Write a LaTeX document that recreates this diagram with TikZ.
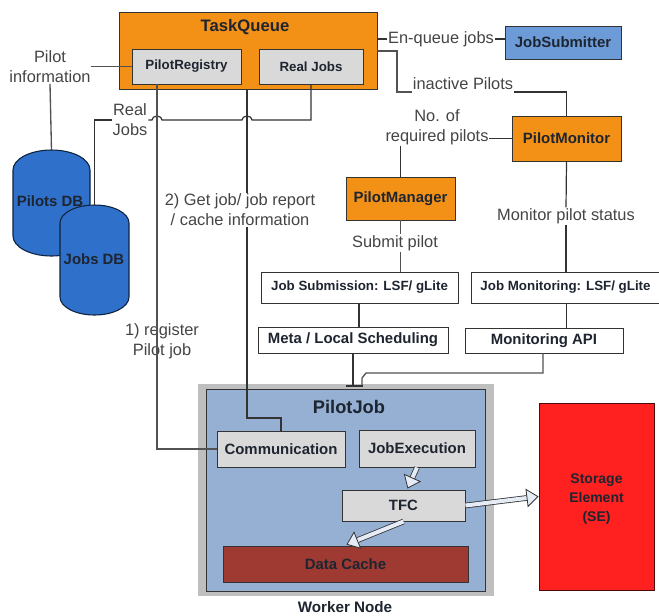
\documentclass[tikz,border=0pt]{standalone}
\usepackage{fontspec}
\setmainfont{Liberation Sans}
\usetikzlibrary{arrows.meta,calc}
\definecolor{orangeq}{HTML}{F39016}
\definecolor{greybox}{HTML}{D9D9D9}
\definecolor{bluesub}{HTML}{6C9BD8}
\definecolor{bluejob}{HTML}{95B0D3}
\definecolor{greyout}{HTML}{BFBFBF}
\definecolor{cachered}{HTML}{9E3A32}
\definecolor{sered}{HTML}{FF2020}
\definecolor{dbblue}{HTML}{2F70CB}
\definecolor{lineC}{HTML}{333333}
\definecolor{txtC}{HTML}{1E2530}
\definecolor{lblC}{HTML}{444444}
\definecolor{arrowfill}{HTML}{E6ECF6}
\newcommand{\pxbox}[7][]{%
  \pgfmathsetmacro{\cxv}{(#3+#5)/2}\pgfmathsetmacro{\cyv}{(#4+#6)/2}%
  \pgfmathsetmacro{\wv}{(#5-#3)*0.75}\pgfmathsetmacro{\hv}{(#6-#4)*0.75}%
  \node[boxbase,#1,minimum width=\wv pt,minimum height=\hv pt] (#2) at (\cxv,\cyv) {#7};}
\newcommand{\dbshape}[6]{%
  \draw[dbbody] (#2-#4,#3+#5) arc[start angle=180,end angle=0,x radius=#4,y radius=-#5]
     -- (#2+#4,#6-#5) arc[start angle=0,end angle=-180,x radius=#4,y radius=-#5] -- cycle;
}
\tikzset{
  boxbase/.style={draw=lineC,line width=0.7pt,inner sep=0pt,font=\bfseries\fontsize{10}{12}\selectfont,text=txtC,align=center},
  bigfont/.style={font=\bfseries\fontsize{11.2}{13}\selectfont},
  orangebox/.style={fill=orangeq},
  greyfill/.style={fill=greybox},
  whitebox/.style={fill=white},
  lbl/.style={font=\fontsize{12.3}{15}\selectfont,text=lblC,align=center,inner sep=0.5pt},
  dbbody/.style={draw=black!70!dbblue,line width=0.8pt,fill=dbblue},
  link/.style={draw=lineC,line width=0.9pt},
  softlink/.style={draw=black!68,line width=1pt},
  wide/.style={draw=lineC,line width=0.6pt,double=arrowfill,double distance=3pt,
    -{Triangle[open,fill=arrowfill,length=9pt,width=14pt]}}
}
\begin{document}
\begin{tikzpicture}[x=0.75pt,y=-0.75pt]
\useasboundingbox (0,0) rectangle (659,615);
% containers
\pxbox[orangebox]{tqbase}{119}{12}{377}{89}{}
\node[font=\bfseries\fontsize{12.5}{15}\selectfont,text=txtC] (tqtitle) at (245,27) {TaskQueue};
\pxbox[greyfill]{registry}{132}{49}{241}{84}{PilotRegistry}
\pxbox[greyfill]{realjobs}{259}{49}{363}{84}{Real Jobs}
\pxbox[fill=bluesub,bigfont]{submitter}{505}{26}{621}{59}{JobSubmitter}
\pxbox[orangebox,bigfont]{monitor}{512}{116}{621}{161}{PilotMonitor}
\pxbox[orangebox,bigfont]{manager}{346}{177}{455}{220}{PilotManager}
\pxbox[whitebox]{jobsub}{261}{272}{458}{303}{Job Submission: LSF/ gLite}
\pxbox[whitebox]{jobmon}{471}{272}{660}{303}{Job Monitoring: LSF/ gLite}
\pxbox[whitebox,bigfont]{meta}{258}{327}{448}{353}{Meta / Local Scheduling}
\pxbox[whitebox,bigfont]{monapi}{465}{328}{623}{353}{Monitoring API}
\pxbox[fill=greyout,draw=none]{outer}{198}{384}{494}{596}{}
\pxbox[fill=bluejob]{pilotjob}{206}{389}{485}{591}{}
\node[font=\bfseries\fontsize{13.7}{16}\selectfont,text=txtC] (pjtitle) at (349,407) {PilotJob};
\pxbox[greyfill,bigfont]{comm}{217}{431}{345}{467}{Communication}
\pxbox[greyfill,bigfont]{jobexec}{359}{430}{475}{467}{JobExecution}
\pxbox[greyfill,bigfont]{tfc}{342}{490}{465}{521}{TFC}
\pxbox[fill=cachered,bigfont]{cache}{223}{546}{468}{582}{Data Cache}
\pxbox[fill=sered,draw=black!70!sered,font=\bfseries\fontsize{10.5}{14}\selectfont]{se}{539}{403}{654}{590}{\rule{0pt}{11pt}Storage\\Element\\(SE)}
\node[font=\bfseries\fontsize{11.4}{13}\selectfont,text=txtC,anchor=base,inner sep=0pt] (worker) at (345,612) {Worker Node};
% databases
\dbshape{pdbs}{51.5}{150}{38.5}{20}{256}
\node[bigfont,text=txtC,inner sep=0pt] (pilotsdb) at (50,201) {Pilots DB};
\dbshape{jdbs}{94.5}{205}{34.5}{18}{315}
\node[bigfont,text=txtC,inner sep=0pt] (jobsdb) at (94,259) {Jobs DB};
\coordinate (pdbtop) at (51.5,150);
\coordinate (jdbtop) at (94.5,205);
% labels
\node[lbl] (lpilot) at (50,67) {Pilot\\information};
\node[lbl] (lreal) at (130,120) {Real\\Jobs};
\node[lbl] (lget) at (240,210) {2) Get job/ job report\\/ cache information};
\node[lbl] (lreg) at (162,341) {1) register\\Pilot job};
\node[lbl] (lenq) at (441,39) {En-queue jobs};
\node[lbl] (linact) at (463,84) {inactive Pilots};
\node[lbl] (lreq) at (437,127) {No. of\\required pilots};
\node[lbl] (lsubmit) at (395,243) {Submit pilot};
\node[lbl] (lmonst) at (566,216) {Monitor pilot status};
% connectors
\draw[softlink] (lpilot.east |- registry.west) -- (registry.west);
\draw[softlink] (lpilot.south) -- (pdbtop);
\draw[link] (realjobs.south) -- (realjobs.south |- lreal.east)
  -- (252,120) arc[start angle=0,end angle=180,x radius=5,y radius=-4] -- (162,120)
  arc[start angle=0,end angle=180,x radius=5,y radius=-4] -- (lreal.east);
\draw[link] (lreal.west) -- (lreal.west -| jdbtop) -- (jdbtop);
\draw[softlink] (registry.south -| 157,0) -- (157,449) -- (comm.west);
\draw[link] (247,89) -- (lget.north -| 247,0);
\draw[link] (lget.south -| 247,0) -- (247,418) -- (comm.north |- 0,418) -- (comm.north);
\draw[link] (tqbase.east |- lenq.west) -- (lenq.west);
\draw[link] (lenq.east) -- (submitter.west |- lenq.east);
\draw[softlink] (377,51) -- (397,51) -- (397,92) -- (linact.west |- 0,92);
\draw[link] (linact.east |- 0,92) -- (monitor.north |- 0,92) -- (monitor.north);
\draw[link] (monitor.west) -- (lreq.east |- monitor.west);
\draw[link] (lreq.south -| manager.north) -- (manager.north);
\draw[softlink] (manager.south) -- (lsubmit.north -| manager.south);
\draw[softlink] (lsubmit.south -| manager.south) -- (jobsub.north -| manager.south);
\draw[link] (monitor.south) -- (lmonst.north);
\draw[link] (lmonst.south) -- (jobmon.north -| lmonst.south);
\draw[link] (jobsub.south -| 359,0) -- (meta.north -| 359,0);
\draw[link] (jobmon.south -| monitor.south) -- (monapi.north -| monitor.south);
\draw[link] (meta.south -| 353,0) -- (353,386);
\draw[softlink] (monapi.south -| 543,0) -- (543,373) -- (366,373) -- (362,378) -- (362,386);
\draw[link] (346,386) -- (363,386);
% wide arrows
\draw[wide] (jobexec.south) -- ($(tfc.north)+(4,-1)$);
\draw[wide] (tfc.south) -- ($(cache.north)+(1,-1)$);
\draw[wide] (tfc.east) -- (se.west);
\end{tikzpicture}
\end{document}
